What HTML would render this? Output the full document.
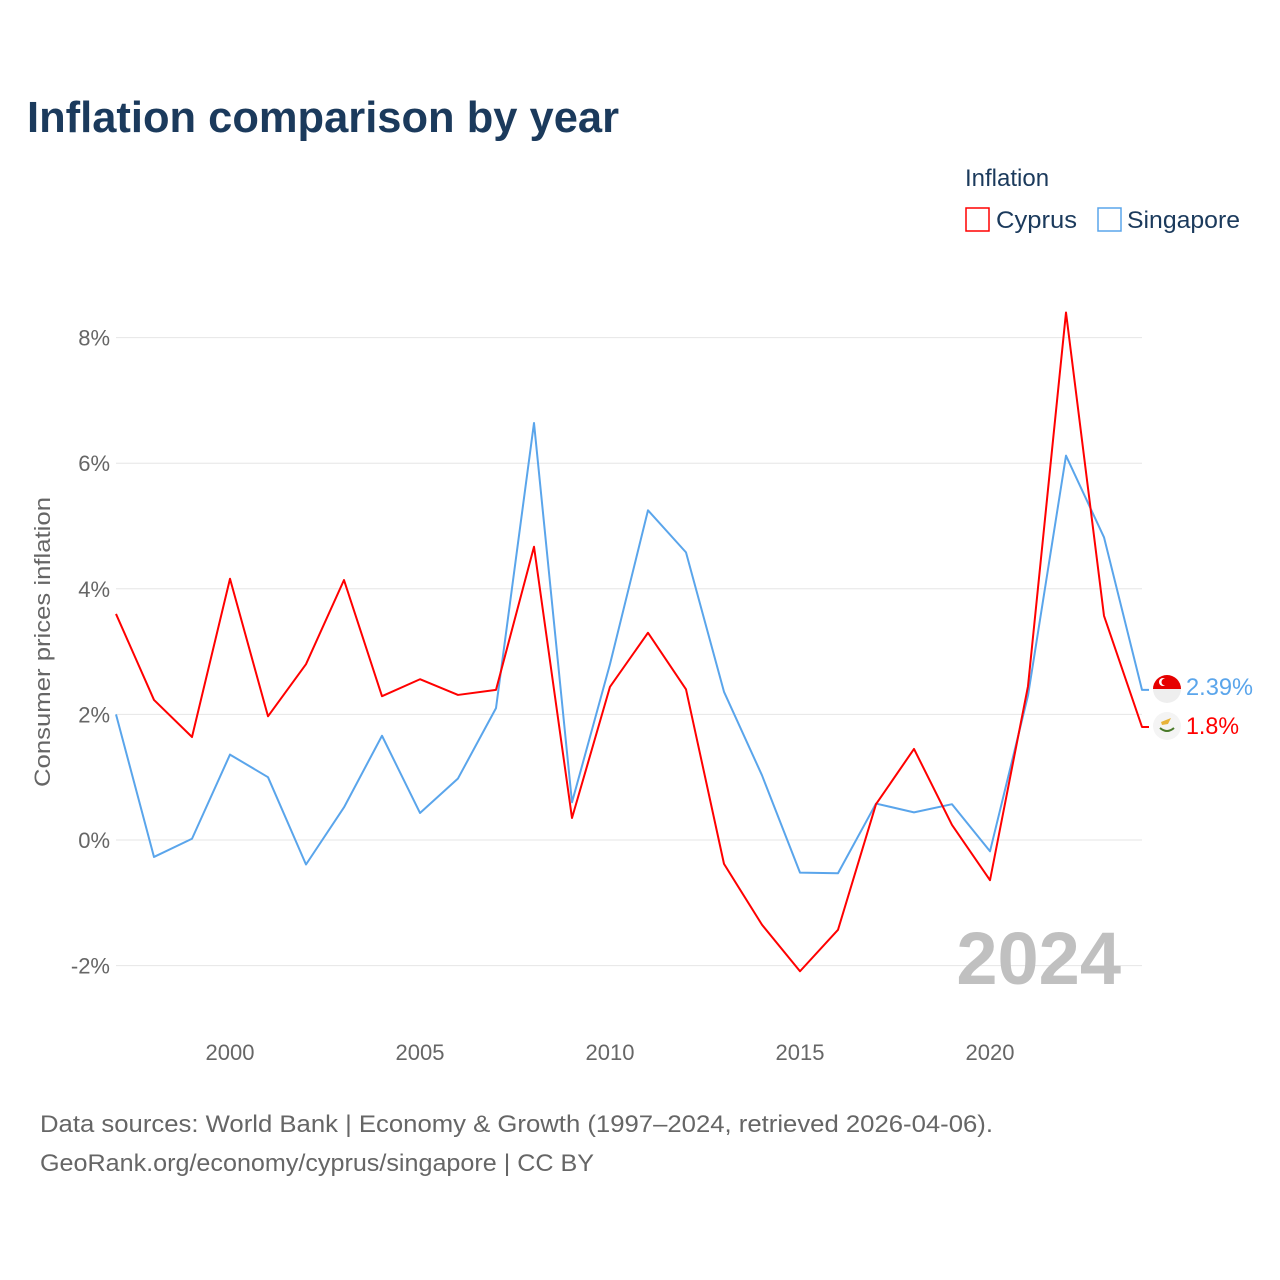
<!DOCTYPE html>
<html><head><meta charset="utf-8"><style>
html,body{margin:0;padding:0;background:#fff;width:1280px;height:1280px;overflow:hidden;font-family:"Liberation Sans",sans-serif}
</style></head><body>
<svg width="1280" height="1280" style="position:absolute;left:0;top:0">
<text x="27" y="132" font-size="44" font-weight="bold" fill="#1b3a5c" textLength="592" lengthAdjust="spacingAndGlyphs">Inflation comparison by year</text>
<text x="965" y="186" font-size="24" fill="#1b3a5c">Inflation</text>
<g><rect x="966" y="208" width="23" height="23" fill="none" stroke="#ff0000" stroke-width="1.5"/><text x="996" y="228" font-size="24" fill="#1b3a5c" textLength="81" lengthAdjust="spacingAndGlyphs">Cyprus</text></g>
<g><rect x="1098" y="208" width="23" height="23" fill="none" stroke="#5aa5eb" stroke-width="1.5"/><text x="1127" y="228" font-size="24" fill="#1b3a5c" textLength="113" lengthAdjust="spacingAndGlyphs">Singapore</text></g>
<g id="grid"></g><g id="yt"></g><g id="xt"></g>
<text transform="translate(50,642) rotate(-90)" text-anchor="middle" font-size="22" fill="#666" textLength="290" lengthAdjust="spacingAndGlyphs">Consumer prices inflation</text>
<text x="1121" y="984" text-anchor="end" font-size="74" font-weight="bold" fill="#c0c0c0">2024</text>
<g id="lines"></g>
<g><circle cx="1167" cy="689" r="14" fill="#eee"/><path d="M1153,689 A14,14 0 0 1 1181,689 Z" fill="#e60000"/><circle cx="1163" cy="682" r="4" fill="#fff"/><circle cx="1165" cy="682" r="3.5" fill="#e60000"/></g>
<g><circle cx="1167" cy="726" r="14" fill="#f4f4f4"/><path d="M1161,722 l10,-4 -3,6 -6,1z" fill="#e8b33a"/><path d="M1160,728 q7,6 14,0" fill="none" stroke="#4a7a2a" stroke-width="2"/></g>
<text x="1186" y="695" font-size="24" fill="#5aa5eb" textLength="67" lengthAdjust="spacingAndGlyphs">2.39%</text>
<text x="1186" y="734" font-size="24" fill="#ff0000" textLength="53" lengthAdjust="spacingAndGlyphs">1.8%</text>
<text x="40" y="1132" font-size="24" fill="#666" textLength="953" lengthAdjust="spacingAndGlyphs">Data sources: World Bank | Economy &amp; Growth (1997–2024, retrieved 2026-04-06).</text>
<text x="40" y="1171" font-size="24" fill="#666" textLength="554" lengthAdjust="spacingAndGlyphs">GeoRank.org/economy/cyprus/singapore | CC BY</text>
</svg>
<script>
const years=[1997,1998,1999,2000,2001,2002,2003,2004,2005,2006,2007,2008,2009,2010,2011,2012,2013,2014,2015,2016,2017,2018,2019,2020,2021,2022,2023,2024];
const cyprus=[3.6,2.23,1.64,4.16,1.97,2.8,4.14,2.29,2.56,2.31,2.39,4.67,0.35,2.44,3.3,2.4,-0.38,-1.35,-2.09,-1.43,0.57,1.45,0.24,-0.64,2.45,8.4,3.57,1.8];
const singapore=[2.0,-0.27,0.02,1.36,1.0,-0.39,0.52,1.66,0.43,0.98,2.1,6.64,0.6,2.8,5.25,4.58,2.36,1.03,-0.52,-0.53,0.58,0.44,0.57,-0.18,2.3,6.12,4.82,2.39];
const yTicks=[-2,0,2,4,6,8];
const yTickLabels=["-2%","0%","2%","4%","6%","8%"];
const xTicks=[2000,2005,2010,2015,2020];
const NS="http://www.w3.org/2000/svg";
const x=v=>116+(v-1997)*38;
const y=v=>840-v*62.8;
function mk(t,a,p){const e=document.createElementNS(NS,t);for(const k in a)e.setAttribute(k,a[k]);p.appendChild(e);return e;}
const grid=document.getElementById('grid'),yt=document.getElementById('yt'),xt=document.getElementById('xt'),lines=document.getElementById('lines');
yTicks.forEach((v,i)=>{
 const l=mk('line',{x1:116,x2:1142,y1:y(v),y2:y(v),stroke:'#e6e6e6','stroke-width':1},grid);
 
 
 const t=mk('text',{x:110,y:y(v)+8,'text-anchor':'end','font-size':22,fill:'#666'},yt);
 t.textContent=yTickLabels[i];
 
 
});
xTicks.forEach(v=>{
 const t=mk('text',{x:x(v),y:1060,'text-anchor':'middle','font-size':22,fill:'#666'},xt);
 t.textContent=v;
 
 
});
function line(vals,col,name){
 let d=vals.map((v,i)=>(i?'L':'M')+x(years[i])+','+y(v)).join(' ');
 d+=' L'+(x(years[years.length-1])+7)+','+y(vals[vals.length-1]);
 const p=mk('path',{d:d,fill:'none',stroke:col,'stroke-width':2,'stroke-linejoin':'round'},lines);
 
 
}
line(singapore,'#5aa5eb','singapore-line');
line(cyprus,'#ff0000','cyprus-line');
</script>
</body></html>
